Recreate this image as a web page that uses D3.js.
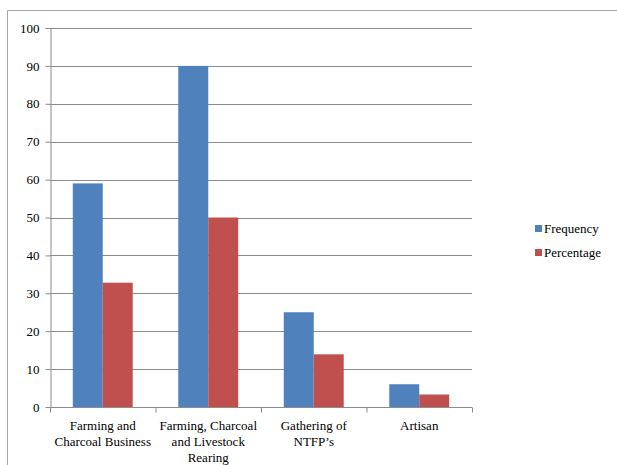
<!DOCTYPE html>
<html>
<head>
<meta charset="utf-8">
<script src="https://cdn.jsdelivr.net/npm/d3@7"></script>
<style>
  html, body { margin: 0; padding: 0; background: #fff; }
  svg { display: block; }
  svg text { font-family: "Liberation Serif" !important; }
</style>
</head>
<body>
<script>
// Main livelihood activities of respondents
const categories = [
  ["Farming and", "Charcoal Business"],
  ["Farming, Charcoal", "and Livestock", "Rearing"],
  ["Gathering of", "NTFP\u2019s"],
  ["Artisan"]
];
const seriesNames = ["Frequency", "Percentage"];
const frequency = [59, 90, 25, 6];
const percentage = [32.8, 50, 13.9, 3.3];
const yTicks = [0, 10, 20, 30, 40, 50, 60, 70, 80, 90, 100];
const colors = ["#4f81bd", "#c0504d"];

const labelFont = "Liberation Serif";
const W = 617, H = 465;
const plot = { left: 50, right: 472, top: 28, bottom: 407 };

const svg = d3.select("body").append("svg").attr("width", W).attr("height", H)
  .attr("font-family", labelFont);

// Outer chart frame (top and left edges)
svg.append("path")
  .attr("d", `M7.5,${H} L7.5,10.5 L${W},10.5`)
  .attr("fill", "none").attr("stroke", "#a6a6a6").attr("stroke-width", 1);

const x0 = d3.scaleBand().domain(d3.range(categories.length))
  .range([plot.left, plot.right]).paddingInner(0).paddingOuter(0);
const x1 = d3.scaleBand().domain(seriesNames)
  .range([0, x0.bandwidth()]).paddingInner(0).paddingOuter(0.76);
const y = d3.scaleLinear().domain([0, 100]).range([plot.bottom, plot.top]);

// Horizontal gridlines
svg.append("g").selectAll("line").data(yTicks.filter(d => d > 0)).join("line")
  .attr("x1", plot.left).attr("x2", plot.right)
  .attr("y1", d => Math.round(y(d)) + 0.5).attr("y2", d => Math.round(y(d)) + 0.5)
  .attr("stroke", "#8c8c8c").attr("stroke-width", 1);

// Bars
const rows = categories.map((c, i) => [frequency[i], percentage[i]]);
const groups = svg.append("g").selectAll("g").data(rows).join("g")
  .attr("transform", (d, i) => `translate(${x0(i)},0)`);
groups.selectAll("rect").data(d => d.map((v, j) => ({ v, s: seriesNames[j], j }))).join("rect")
  .attr("x", d => x1(d.s))
  .attr("width", x1.bandwidth())
  .attr("y", d => y(d.v))
  .attr("height", d => y(0) - y(d.v))
  .attr("fill", d => colors[d.j]);

// Y axis
const yAxis = svg.append("g").attr("transform", `translate(${plot.left + 0.5},0)`)
  .call(d3.axisLeft(y).tickValues(yTicks).tickSize(5).tickPadding(6).tickSizeOuter(0));
yAxis.attr("font-family", null).attr("font-size", null);
yAxis.select(".domain").attr("stroke", "#8c8c8c");
yAxis.selectAll(".tick line").attr("stroke", "#8c8c8c");
yAxis.selectAll(".tick text").attr("fill", "#000")
  .attr("font-family", labelFont).attr("font-size", 13);

// X axis
const xAxis = svg.append("g").attr("transform", `translate(0,${plot.bottom + 0.5})`);
xAxis.append("line").attr("x1", plot.left).attr("x2", plot.right)
  .attr("stroke", "#8c8c8c");
xAxis.selectAll("line.tk").data(d3.range(categories.length + 1)).join("line")
  .attr("class", "tk")
  .attr("x1", i => plot.left + i * x0.step() + 0.5).attr("x2", i => plot.left + i * x0.step() + 0.5)
  .attr("y1", 0).attr("y2", 5).attr("stroke", "#8c8c8c");
const xl = xAxis.selectAll("text").data(categories).join("text")
  .attr("text-anchor", "middle").attr("fill", "#000")
  .attr("font-family", labelFont).attr("font-size", 13)
  .attr("transform", (d, i) => `translate(${x0(i) + x0.bandwidth() / 2},22)`);
xl.selectAll("tspan").data(d => d).join("tspan")
  .attr("x", 0).attr("dy", (d, k) => k === 0 ? 0 : 16).text(d => d);

// Legend
const legend = svg.append("g").attr("transform", "translate(535,225)");
seriesNames.forEach((name, j) => {
  const g = legend.append("g").attr("transform", `translate(0,${j * 24})`);
  g.append("rect").attr("width", 7).attr("height", 7).attr("fill", colors[j]);
  g.append("text").attr("x", 9).attr("y", 8).attr("fill", "#000")
    .attr("font-family", labelFont).attr("font-size", 13).text(name);
});
</script>
</body>
</html>
